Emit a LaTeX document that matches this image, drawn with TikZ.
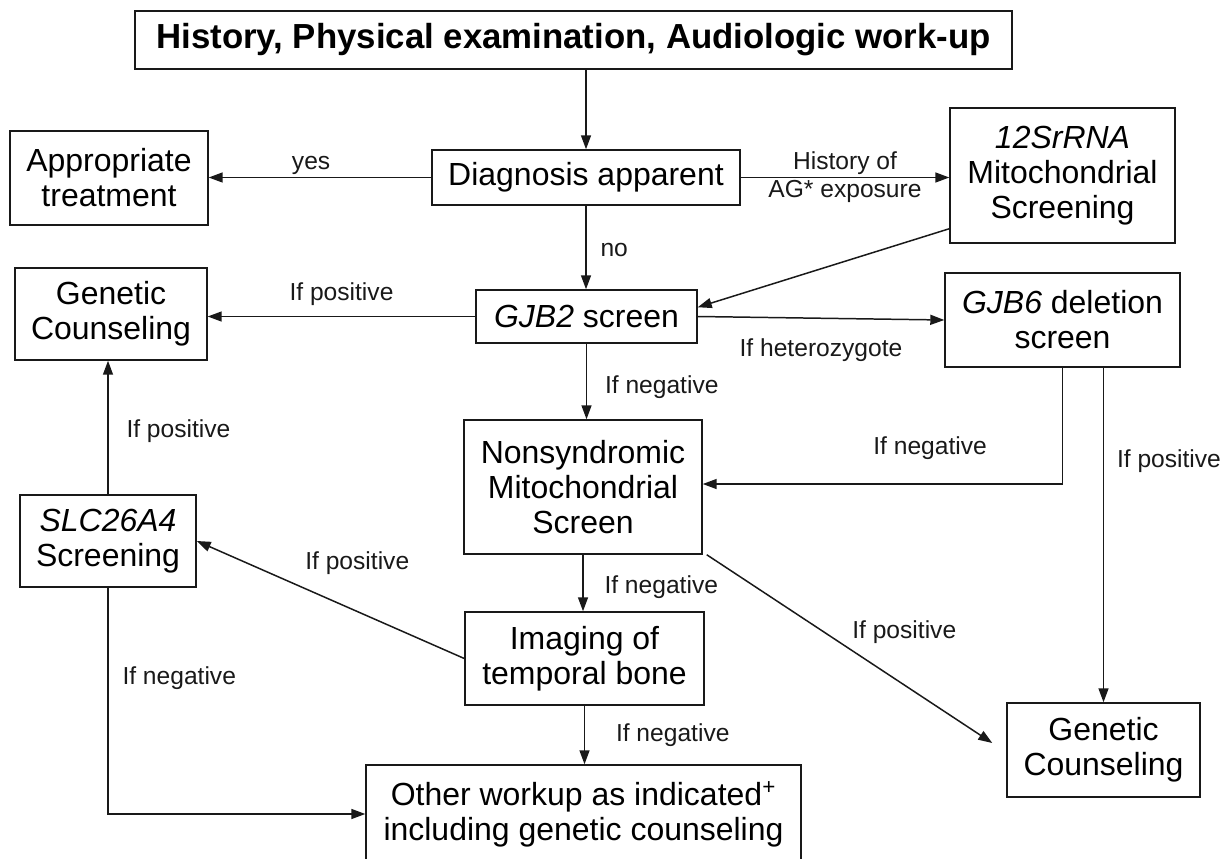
\documentclass[tikz,border=0pt]{standalone}
\usepackage{fontspec}
\setmainfont{Liberation Sans}
\usetikzlibrary{arrows.meta,positioning,calc}
\definecolor{inkcolor}{RGB}{25,25,25}
\tikzset{
  box/.style={draw=inkcolor, line width=0.85pt, align=center, inner sep=0pt,
    font=\fontsize{18.2}{19.9}\selectfont},
  lbl/.style={inner sep=1pt, text=inkcolor, font=\fontsize{14}{16}\selectfont},
  flow/.style={draw=inkcolor, line width=0.85pt,
    -{Triangle[length=0.28cm,width=0.2cm]}}
}

\begin{document}
\begin{tikzpicture}[x=0.02cm, y=-0.02cm]
\useasboundingbox (0,0) rectangle (1226,858);

% Top of the work-up
\node[box, font=\bfseries\fontsize{19.8}{22}\selectfont,
  minimum width=17.54cm, minimum height=1.16cm] (title) at (573.5,40)
  {History, Physical examination, Audiologic work-up};
\node[box, minimum width=6.16cm, minimum height=1.1cm] (diag) at (586,177.5)
  {Diagnosis apparent};
\node[box, minimum width=3.96cm, minimum height=1.88cm] (treat) at (109,178)
  {Appropriate\\treatment};
\node[box, minimum width=4.5cm, minimum height=2.7cm] (mito12) at (1062.5,175.5)
  {\textit{12SrRNA}\\Mitochondrial\\Screening};

% Screening boxes
\node[box, minimum width=3.84cm, minimum height=1.84cm] (gcleft) at (111,314)
  {Genetic\\Counseling};
\node[box, minimum width=4.42cm, minimum height=1.06cm] (gjb2) at (586.5,316.5)
  {\textit{GJB2} screen};
\node[box, minimum width=4.7cm, minimum height=1.88cm] (gjb6) at (1062.5,320)
  {\textit{GJB6} deletion\\screen};
\node[box, minimum width=4.76cm, minimum height=2.68cm] (nsmito) at (583,487)
  {Nonsyndromic\\Mitochondrial\\Screen};
\node[box, minimum width=3.52cm, minimum height=1.84cm] (slc) at (108,541)
  {\textit{SLC26A4}\\Screening};
\node[box, minimum width=4.78cm, minimum height=1.86cm] (imaging) at (584.5,658.5)
  {Imaging of\\temporal bone};
\node[box, minimum width=3.86cm, minimum height=1.88cm] (gcright) at (1103.5,750)
  {Genetic\\Counseling};
\node[box, minimum width=8.7cm, minimum height=1.96cm] (other) at (583.5,814)
  {Other workup as indicated\textsuperscript{+}\\including genetic counseling};

% Connectors
\draw[flow] (title.south -| diag.north) -- (diag.north);
\draw[flow] (diag.west) -- node[lbl, above, pos=0.54] (yes) {yes} (diag.west -| treat.east);
\draw[flow] (diag.east) -- node[lbl, above] (hist) {History of}
  node[lbl, below] (agexp) {AG* exposure} (diag.east -| mito12.west);
\draw[flow] (diag.south) -- node[lbl, right=0.24cm, pos=0.53] (no) {no} (diag.south |- gjb2.north);
\draw[flow] ([shift={(0,-15)}]mito12.south west) -- ([shift={(0,18)}]gjb2.north east);
\draw[flow] (gjb2.west) -- node[lbl, above=0.16cm] (pos1) {If positive} (gjb2.west -| gcleft.east);
\draw[flow] (gjb2.east) -- node[lbl, below=0.36cm] (het) {If heterozygote} (gjb6.west);
\draw[flow] (gjb2.south) -- node[lbl, right=0.32cm, pos=0.57] (neg1) {If negative} (gjb2.south |- nsmito.north);
\draw[flow] (gjb6.south) |- node[lbl, above=0.44cm, pos=0.684] (neg2) {If negative} ([shift={(0,-3)}]nsmito.east);
\draw[flow] (gjb6.south -| gcright.north) -- node[lbl, right=0.22cm, pos=0.28] (pos2) {If positive} (gcright.north);
\draw[flow] ([shift={(4,0)}]nsmito.south east) -- node[lbl, right=0.52cm, pos=0.41] (pos3) {If positive}
  ([shift={(-14,-7)}]gcright.west);
\draw[flow] (nsmito.south) -- node[lbl, right=0.38cm, pos=0.57] (neg3) {If negative} (nsmito.south |- imaging.north);
\draw[flow] (imaging.west) -- node[lbl, above=0.68cm, pos=0.4] (pos4) {If positive} (slc.east);
\draw[flow] (imaging.south) -- node[lbl, right=0.58cm, pos=0.5] (neg4) {If negative} (imaging.south |- other.north);
\draw[flow] (slc.north) -- node[lbl, right=0.32cm, pos=0.47] (pos5) {If positive} (slc.north |- gcleft.south);
\draw[flow] (slc.south) |- node[lbl, right=0.24cm, pos=0.2] (neg5) {If negative} (other.west);

\end{tikzpicture}
\end{document}
